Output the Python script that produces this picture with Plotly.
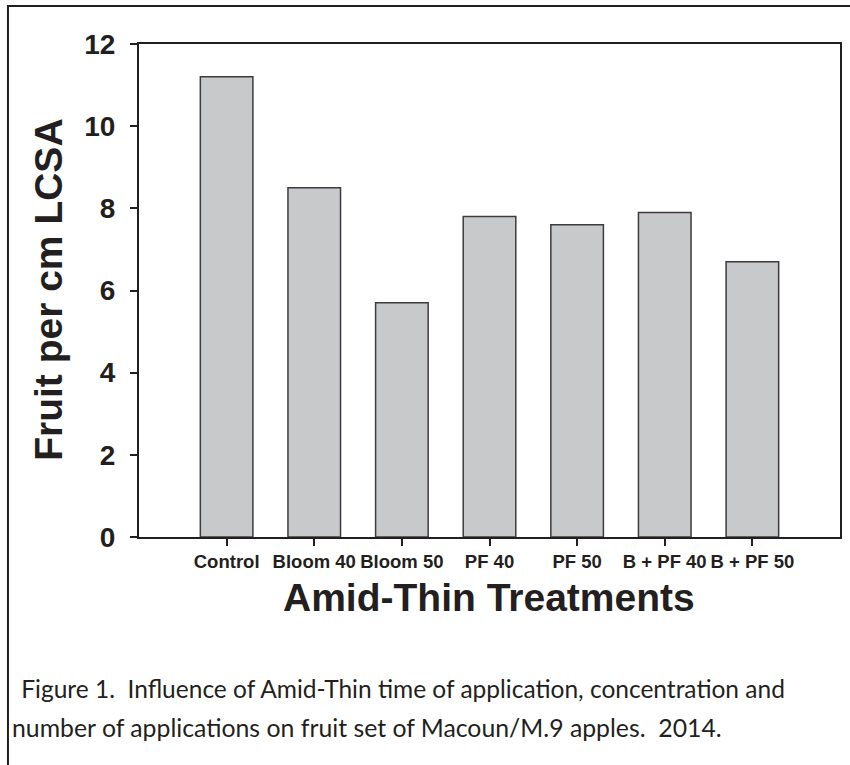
import plotly.graph_objects as go

treatments = ["Control", "Bloom 40", "Bloom 50", "PF 40", "PF 50", "B + PF 40", "B + PF 50"]
fruit_per_cm = [11.2, 8.5, 5.7, 7.8, 7.6, 7.9, 6.7]
y_ticks = [0, 2, 4, 6, 8, 10, 12]

x_title = "Amid-Thin Treatments"
y_title = "Fruit per cm LCSA"
caption_1 = " Figure 1.  Influence of Amid-Thin time of application, concentration and"
caption_2 = "number of applications on fruit set of Macoun/M.9 apples.  2014."

W, H = 850, 765
L, R, T, B = 138.5, 842, 44, 537  # plot area in pixels
pw, ph = R - L, B - T


def px(x):
    return (x - L) / pw


def py(y):
    return (B - y) / ph


FONT = "Liberation Sans, Arial, sans-serif"
CAP_FONT = "Lato, Open Sans, sans-serif"
INK = "#231f20"

fig = go.Figure(
    go.Bar(
        x=list(range(len(treatments))),
        y=fruit_per_cm,
        width=0.6,
        marker=dict(color="#c8c9cb", line=dict(color="#3c3c3e", width=1.5)),
        hoverinfo="x+y",
    )
)

fig.update_layout(
    width=W,
    height=H,
    margin=dict(l=L, r=W - R, t=T, b=H - B, pad=0),
    paper_bgcolor="white",
    plot_bgcolor="white",
    showlegend=False,
    font=dict(family=FONT, color=INK),
)

fig.update_xaxes(
    range=[-1, 7],
    tickmode="array",
    tickvals=list(range(len(treatments))),
    ticktext=treatments,
    tickangle=0,
    ticks="outside",
    ticklen=7,
    tickwidth=1.5,
    tickcolor=INK,
    tickfont=dict(size=18.5, family=FONT, color=INK, weight="bold"),
    showline=True,
    linewidth=2,
    linecolor=INK,
    mirror=True,
    showgrid=False,
    zeroline=False,
)
fig.update_yaxes(
    range=[0, 12],
    tickmode="array",
    tickvals=y_ticks,
    ticktext=[str(v) for v in y_ticks],
    ticks="outside",
    ticklen=7,
    tickwidth=1.5,
    tickcolor=INK,
    ticklabelstandoff=9,
    tickfont=dict(size=28, family=FONT, color=INK, weight="bold"),
    showline=True,
    linewidth=2,
    linecolor=INK,
    mirror=True,
    showgrid=False,
    zeroline=False,
)

annotations = [
    dict(text=x_title, x=px(490), y=py(597), xref="paper", yref="paper",
         xanchor="center", yanchor="middle", showarrow=False,
         font=dict(size=39, family=FONT, color=INK, weight="bold")),
    dict(text=y_title, x=px(47), y=py(290), xref="paper", yref="paper",
         xanchor="center", yanchor="middle", showarrow=False, textangle=-90,
         font=dict(size=39, family=FONT, color=INK, weight="bold")),
    dict(text=caption_1, x=px(12), y=py(688), xref="paper", yref="paper",
         xanchor="left", yanchor="middle", showarrow=False,
         font=dict(size=24.5, family=CAP_FONT, color=INK)),
    dict(text=caption_2, x=px(9), y=py(727), xref="paper", yref="paper",
         xanchor="left", yanchor="middle", showarrow=False,
         font=dict(size=24.8, family=CAP_FONT, color=INK)),
]
fig.update_layout(annotations=annotations)

# outer figure frame (extends past right and bottom edges as in the source)
fig.add_shape(type="rect", xref="paper", yref="paper",
              x0=px(7), y0=py(790), x1=px(880), y1=py(6),
              line=dict(color=INK, width=2), fillcolor="rgba(0,0,0,0)", layer="above")

fig.write_html(
    "out.html",
    config={"displayModeBar": False},
    post_script="document.body.style.margin='0';document.body.style.padding='0';",
)
